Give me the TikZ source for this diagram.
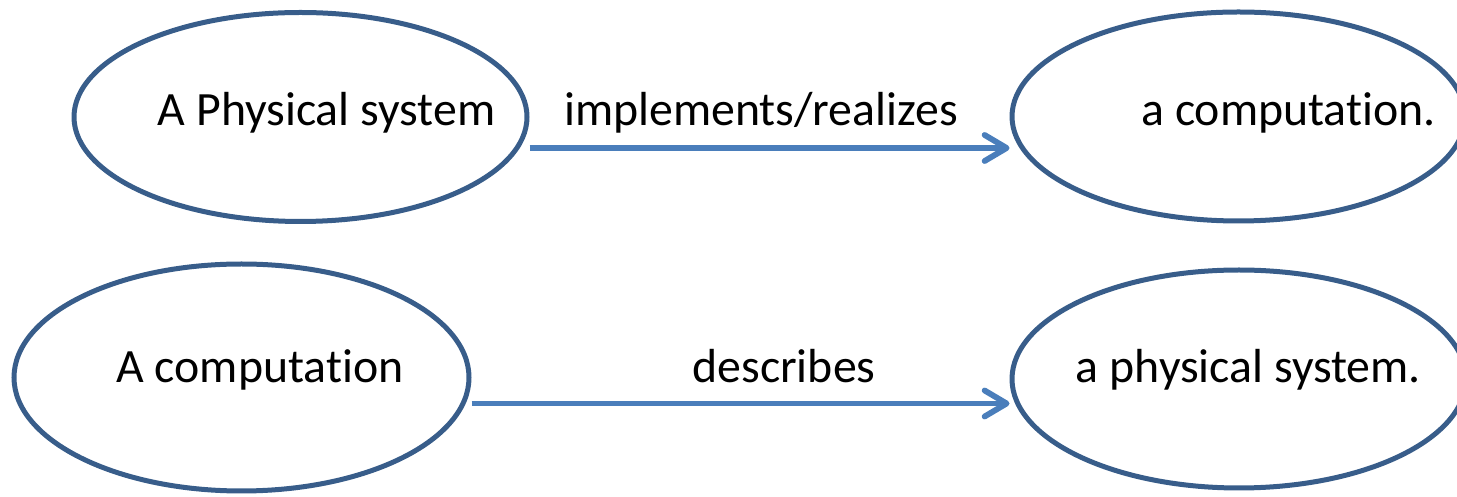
\documentclass[tikz,border=0pt]{standalone}
\usepackage{fontspec}
\setmainfont{Carlito}[Ligatures=NoCommon]
\usetikzlibrary{shapes.geometric,arrows.meta}
\definecolor{ovalblue}{HTML}{385D8A}
\definecolor{linkblue}{HTML}{4A7EBB}

\begin{document}
\begin{tikzpicture}[x=0.1mm, y=-0.1mm,
	oval/.style = {ellipse, draw=ovalblue, line width=0.5mm, inner sep=0pt, minimum width=45.3mm, minimum height=20.9mm},
	words/.style = {anchor=base, inner sep=0pt, font=\fontsize{13.6pt}{16pt}\selectfont},
	link/.style = {draw=linkblue, line width=0.58mm, -{Straight Barb[length=2.2mm, width=2.6mm, round]}},
]
\useasboundingbox (0,0) rectangle (1457,497);

\node[oval] (physsys) at (300.5,117) {};
\node[oval] (comptop) at (1238.5,116.5) {};
\node[oval, minimum width=45.5mm, minimum height=22.7mm] (compbot) at (241.5,377.5) {};
\node[oval, minimum width=45.4mm, minimum height=21.8mm] (physbot) at (1239,379) {};

\node[words] (physsys-txt) at (326.5,126) {A Physical system};
\node[words] (implements) at (761,126) {implements/realizes};
\node[words] (comptop-txt) at (1288.5,126) {a computation.};
\node[words] (compbot-txt) at (260,383) {A computation};
\node[words] (describes) at (784,383) {describes};
\node[words] (physbot-txt) at (1248.5,383) {a physical system.};

\draw[link] ([yshift=-3.1mm]physsys.east) -- ([yshift=-3.1mm]physsys.east -| comptop.west);
\draw[link] ([yshift=-2.6mm]compbot.east) -- ([yshift=-2.6mm]compbot.east -| physbot.west);
\end{tikzpicture}
\end{document}
